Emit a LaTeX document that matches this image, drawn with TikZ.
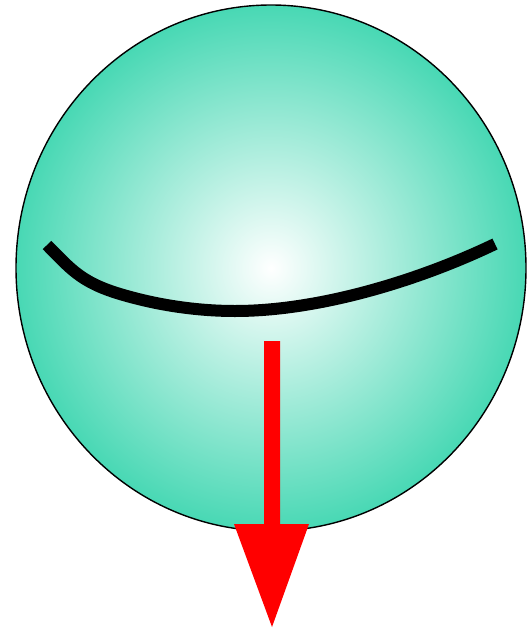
\documentclass[tikz,border=0pt]{standalone}
\definecolor{tealedge}{RGB}{72,216,180}
\definecolor{arrowred}{RGB}{255,0,0}
\begin{document}
\begin{tikzpicture}[x=1pt,y=-1pt,
  ball/.style={draw=black,line width=1.4pt,inner color=white,outer color=tealedge},
  smile/.style={line width=12pt,black},
  arrowbody/.style={fill=arrowred,draw=none}]
\useasboundingbox (0,0) rectangle (527,629);
\shade[ball] (271,268) ellipse [x radius=255, y radius=263];
\draw[smile] (47,245) .. controls (70,268) and (80,282) .. (120,294)
  .. controls (160,306) and (200,311) .. (235,311)
  .. controls (320,311) and (420,280) .. (495,244);
\fill[arrowbody] (264,341) -- (280,341) -- (280,524) -- (309,524) -- (272,627) -- (234,524) -- (264,524) -- cycle;
\end{tikzpicture}
\end{document}
